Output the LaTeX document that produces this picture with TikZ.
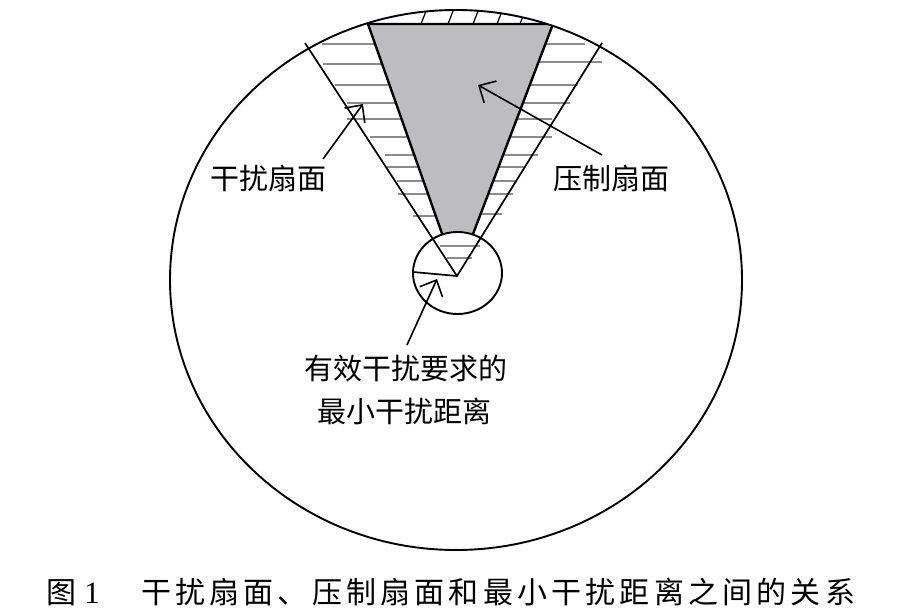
\documentclass[tikz,border=0pt]{standalone}
\usepackage{fontspec}
\newfontfamily\cjk{Noto Sans CJK SC}
\newfontfamily\cjkcap[LetterSpace=14]{Noto Sans CJK SC}
\newfontfamily\numfont{Liberation Serif}
\usetikzlibrary{arrows.meta}
\definecolor{fanfill}{RGB}{189,189,192}
\definecolor{hatchgray}{RGB}{140,140,140}
\begin{document}
\begin{tikzpicture}[x=1pt,y=-1pt,
  ptr/.style={line width=1.6pt,-{Straight Barb[length=13pt,width=25pt]}},
  hatch/.style={hatchgray,line width=1.3pt},
  tophatch/.style={black,line width=1.2pt},
  rim/.style={line width=1.9pt},
  edge/.style={line width=1.7pt},
  fanedge/.style={line width=2.4pt},
  lbl/.style={font=\cjk\fontsize{29}{32}\selectfont,inner sep=0pt,anchor=base},
  captext/.style={font=\cjkcap\fontsize{30}{32}\selectfont,inner sep=0pt,anchor=base}]
\useasboundingbox (0,0) rectangle (908,609);
\fill[white] (0,0) rectangle (908,609);
% key points
\coordinate (O) at (457,276);
\coordinate (C) at (457.5,273);
\coordinate (B) at (456,280);
\coordinate (GL) at (368,24);
\coordinate (GR) at (553,24);
\coordinate (SL) at (305,43);
\coordinate (SR) at (602,43);
\coordinate (RE) at (413,272);
% horizontal hatch, left side
\foreach \y/\a in {44/322,64/323,85/335,103/347,119/347,137/370,155/385,167/387,181/397,194/398,216/413}
  \draw[hatch] (\a,\y) -- ({368+0.353*(\y-24)+8},\y);
% horizontal hatch, right side
\foreach \y/\b in {44/585,62/602,85/578,103/570,119/552,137/552,155/538,167/525,181/515,194/513,214/502}
  \draw[hatch] ({553-0.381*(\y-24)-8},\y) -- (\b,\y);
% hatch inside small circle
\draw[hatch] (440,246) -- (480,246);
\draw[hatch] (447,258) -- (472,258);
% slanted hatch above chord
\begin{scope}
  \clip (B) ellipse [x radius=286pt, y radius=270pt];
  \foreach \x in {421,448,473,497,520}
    \draw[tophatch] (\x,24) -- (\x+7,6);
\end{scope}
% suppression fan (grey)
\begin{scope}
  \clip (B) ellipse [x radius=286pt, y radius=270pt];
  \begin{scope}[even odd rule]
  \clip (-10,-10) rectangle (920,620) (C) ellipse [x radius=44.5pt, y radius=41pt];
  \fill[fanfill] (GL) -- (GR) -- (O) -- cycle;
  \draw[fanedge] (O) -- (GL) -- (GR) -- cycle;
  \end{scope}
\end{scope}
% big circle
\draw[rim] (B) ellipse [x radius=286pt, y radius=270pt];
% jamming fan edges
\draw[edge] (SL) -- (O) -- (SR);
% small circle and radius
\draw[rim] (C) ellipse [x radius=44.5pt, y radius=41pt];
\draw[edge] (O) -- (RE);
% labels
\node[lbl] (ganrao) at (268,190) {干扰扇面};
\node[lbl] (yazhi) at (611,190) {压制扇面};
\node[lbl] (minA) at (406,380) {有效干扰要求的};
\node[lbl] (minB) at (404,423) {最小干扰距离};
% arrows
\coordinate (t1) at (363,104);
\coordinate (s1) at (323,159);
\coordinate (t2) at (478,85);
\coordinate (s2) at (602,155);
\coordinate (t3) at (437,279);
\coordinate (s3) at (407,345);
\draw[ptr] (s1) -- (t1);
\draw[ptr] (s2) -- (t2);
\draw[ptr] (s3) -- (t3);
% caption
\node[lbl,font=\cjk\fontsize{30}{32}\selectfont] (capA) at (61,603) {图};
\node[inner sep=0pt,anchor=base,font=\numfont\fontsize{31}{32}\selectfont] (capB) at (92,603) {1};
\node[captext,anchor=base west] (capC) at (141,603) {干扰扇面、压制扇面和最小干扰距离之间的关系};
\end{tikzpicture}
\end{document}
